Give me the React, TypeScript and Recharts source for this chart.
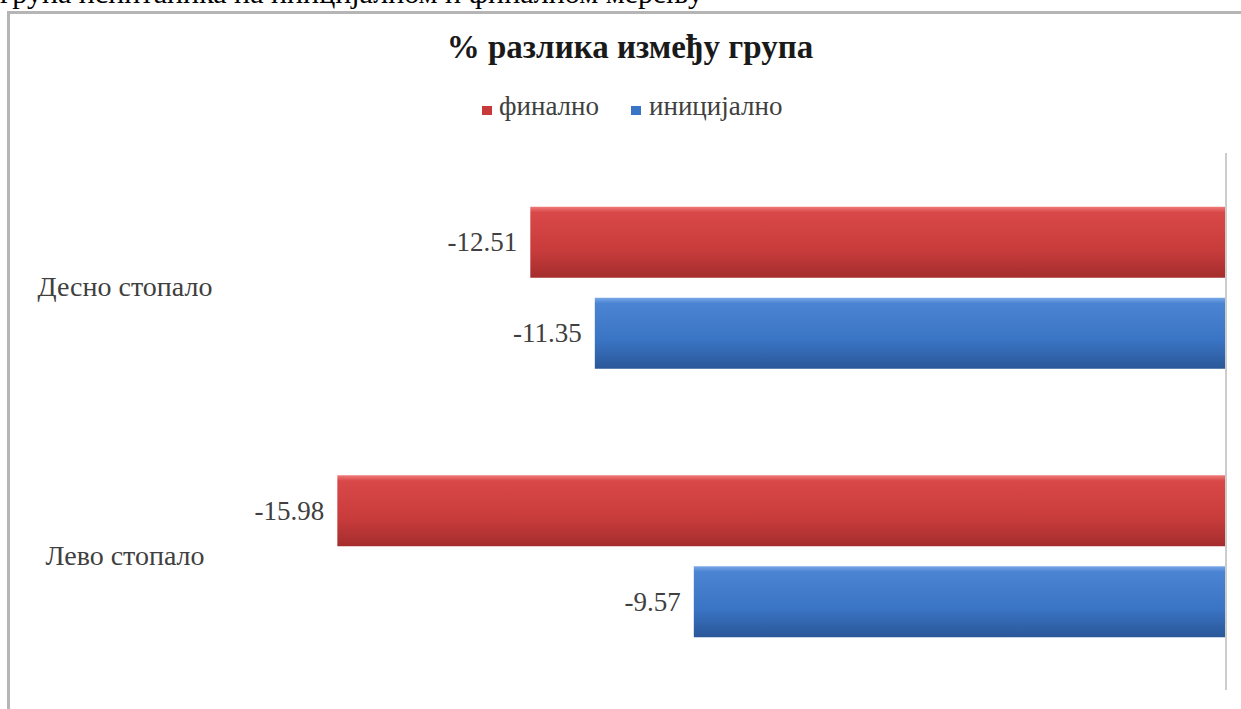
import { BarChart, Bar, XAxis, YAxis, ReferenceLine, LabelList } from "recharts";

const categories = ["Десно стопало", "Лево стопало"];
const finalno = [-12.51, -15.98];
const inicijalno = [-11.35, -9.57];
const legendNames = ["финално", "иницијално"];

const data = categories.map((name, i) => ({ name, finalno: finalno[i], inicijalno: inicijalno[i] }));

const serif = "Liberation Serif";

function ValueLabel(props: any) {
  const { x, y, width, height, value } = props;
  const left = Math.min(Number(x), Number(x) + Number(width));
  return (
    <text x={left - 13} y={Number(y) + Number(height) / 2} dy={9} textAnchor="end" fontFamily={serif} fontSize={27} fill="#404040">
      {Number(value).toFixed(2)}
    </text>
  );
}

function CatTick(props: any) {
  const { y, payload } = props;
  return (
    <text x={125} y={y} dy={9} textAnchor="middle" fontFamily={serif} fontSize={28} fill="#404040">
      {payload.value}
    </text>
  );
}

export default function App() {
  return (
    <div style={{ position: "absolute", left: 0, top: 0, width: 1241, height: 709, overflow: "hidden", background: "#fff" }}>
      <div style={{ position: "absolute", left: 7, top: 11, width: 1250, height: 720, border: "3px solid #b5b5b5", boxSizing: "border-box" }} />
      <div style={{ position: "absolute", left: 0, top: 0 }}>
        <BarChart
          width={1241}
          height={709}
          data={data}
          layout="vertical"
          margin={{ top: 153, right: 15, bottom: 19, left: 0 }}
          barCategoryGap="20%"
          barGap={20}
        >
          <defs>
            <linearGradient id="gRed" x1="0" y1="0" x2="0" y2="1">
              <stop offset="0" stopColor="#f07a7a" />
              <stop offset="0.08" stopColor="#d94848" />
              <stop offset="0.6" stopColor="#c93c3c" />
              <stop offset="1" stopColor="#a52d2d" />
            </linearGradient>
            <linearGradient id="gBlue" x1="0" y1="0" x2="0" y2="1">
              <stop offset="0" stopColor="#7aa8e8" />
              <stop offset="0.08" stopColor="#4a84d2" />
              <stop offset="0.6" stopColor="#3a74c4" />
              <stop offset="1" stopColor="#2a5798" />
            </linearGradient>
          </defs>
          <text x={0} y={3} fontFamily={serif} fontSize={30} fill="#000">
            група испитаника на иницијалном и финалном мерењу
          </text>
          <text x={630} y={58} textAnchor="middle" fontFamily={serif} fontWeight="bold" fontSize={33} fill="#1a1a1a">
            % разлика између група
          </text>
          <rect x={482} y={106} width={10} height={9} fill="#c83a3a" />
          <text x={499} y={115} fontFamily={serif} fontSize={27} fill="#404040">
            {legendNames[0]}
          </text>
          <rect x={631} y={106} width={10} height={9} fill="#3a74c4" />
          <text x={649} y={115} fontFamily={serif} fontSize={27} fill="#404040">
            {legendNames[1]}
          </text>
          <XAxis type="number" domain={[-18, 0]} hide />
          <YAxis type="category" dataKey="name" width={225} axisLine={false} tickLine={false} tick={<CatTick />} />
          <ReferenceLine x={0} stroke="#cccccc" strokeWidth={2} />
          <Bar dataKey="finalno" name={legendNames[0]} fill="url(#gRed)" isAnimationActive={false}>
            <LabelList dataKey="finalno" content={<ValueLabel />} />
          </Bar>
          <Bar dataKey="inicijalno" name={legendNames[1]} fill="url(#gBlue)" isAnimationActive={false}>
            <LabelList dataKey="inicijalno" content={<ValueLabel />} />
          </Bar>
        </BarChart>
      </div>
    </div>
  );
}
